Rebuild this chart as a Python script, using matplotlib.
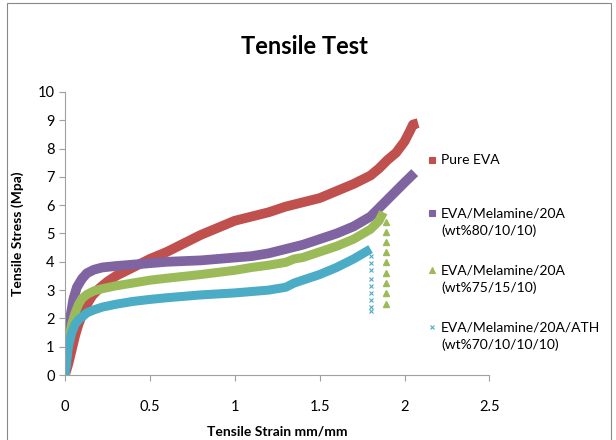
import matplotlib.pyplot as plt
from matplotlib.lines import Line2D
from matplotlib.patches import Rectangle

# values
red_x = [0, 0.02, 0.04, 0.06, 0.08, 0.1, 0.13, 0.16, 0.2, 0.25, 0.3, 0.4, 0.5, 0.6, 0.7, 0.8,
         0.9, 1.0, 1.1, 1.2, 1.3, 1.4, 1.5, 1.6, 1.7, 1.8, 1.85, 1.9, 1.95, 2.0, 2.03, 2.05, 2.08]
red_y = [0, 0.4, 0.9, 1.4, 1.8, 2.1, 2.5, 2.8, 3.05, 3.3, 3.5, 3.8, 4.1, 4.35, 4.65, 4.95,
         5.2, 5.45, 5.6, 5.75, 5.95, 6.1, 6.25, 6.5, 6.75, 7.05, 7.3, 7.6, 7.85, 8.25, 8.6, 8.85, 8.9]

pur_x = [0, 0.01, 0.02, 0.03, 0.05, 0.07, 0.1, 0.13, 0.17, 0.22, 0.3, 0.4, 0.5, 0.6, 0.8, 1.0,
         1.1, 1.2, 1.3, 1.4, 1.5, 1.6, 1.7, 1.8, 1.85, 1.9, 1.95, 2.0, 2.06]
pur_y = [0, 0.8, 1.5, 2.0, 2.7, 3.1, 3.4, 3.6, 3.72, 3.8, 3.85, 3.9, 3.95, 4.0, 4.05, 4.15,
         4.2, 4.3, 4.45, 4.6, 4.8, 5.0, 5.25, 5.6, 5.9, 6.2, 6.5, 6.8, 7.15]

grn_x = [0, 0.01, 0.02, 0.04, 0.06, 0.08, 0.1, 0.13, 0.17, 0.22, 0.3, 0.4, 0.5, 0.6, 0.8, 1.0,
         1.1, 1.2, 1.3, 1.35, 1.4, 1.5, 1.6, 1.7, 1.8, 1.85, 1.875]
grn_y = [0, 0.6, 1.2, 1.8, 2.2, 2.5, 2.7, 2.85, 2.97, 3.05, 3.15, 3.25, 3.35, 3.42, 3.55, 3.7,
         3.8, 3.88, 3.98, 4.1, 4.15, 4.35, 4.55, 4.8, 5.15, 5.45, 5.75]
grn_tail_x = [1.89] * 9
grn_tail_y = [5.4, 5.05, 4.7, 4.35, 4.0, 3.6, 3.25, 2.9, 2.5]

cyn_x = [0, 0.01, 0.02, 0.04, 0.06, 0.08, 0.1, 0.13, 0.17, 0.22, 0.3, 0.4, 0.5, 0.6, 0.8, 1.0,
         1.1, 1.2, 1.3, 1.35, 1.4, 1.5, 1.6, 1.7, 1.8]
cyn_y = [0, 0.5, 1.0, 1.5, 1.8, 1.95, 2.05, 2.2, 2.3, 2.4, 2.5, 2.6, 2.67, 2.73, 2.83, 2.9,
         2.95, 3.0, 3.1, 3.25, 3.35, 3.55, 3.8, 4.1, 4.45]
cyn_tail_x = [1.805] * 9
cyn_tail_y = [4.2, 3.95, 3.7, 3.4, 3.15, 2.9, 2.65, 2.4, 2.25]

labels = ["Pure EVA", "EVA/Melamine/20A\n(wt%80/10/10)",
          "EVA/Melamine/20A\n(wt%75/15/10)", "EVA/Melamine/20A/ATH\n(wt%70/10/10/10)"]
colors = ["#C0504D", "#8064A2", "#9BBB59", "#4BACC6"]
markers = ["s", "s", "^", "x"]

plt.rcParams["font.family"] = ["Lato", "DejaVu Sans"]

fig = plt.figure(figsize=(6.16, 4.4), dpi=100)
ax = fig.add_axes([0.1055, 0.1477, 0.689, 0.6433])

ax.plot(red_x, red_y, color=colors[0], lw=7, solid_capstyle="butt")
ax.plot(pur_x, pur_y, color=colors[1], lw=7, solid_capstyle="butt")
ax.plot(grn_x, grn_y, color=colors[2], lw=6.5, solid_capstyle="butt")
ax.plot(grn_tail_x, grn_tail_y, ls="none", marker="^", ms=4.5, color=colors[2])
ax.plot(cyn_x, cyn_y, color=colors[3], lw=6.5, solid_capstyle="butt")
ax.plot(cyn_tail_x, cyn_tail_y, ls="none", marker="x", ms=3.5, mew=0.8, color=colors[3])

ax.set_xlim(0, 2.5)
ax.set_ylim(0, 10)
ax.set_xticks([0, 0.5, 1, 1.5, 2, 2.5])
ax.set_xticklabels(["0", "0.5", "1", "1.5", "2", "2.5"])
ax.set_yticks(range(11))
for s in ["top", "right"]:
    ax.spines[s].set_visible(False)
for s in ["left", "bottom"]:
    ax.spines[s].set_color("#A0A0A0")
ax.tick_params(colors="#A0A0A0", labelcolor="black", labelsize=10.5, length=4, width=0.8)
ax.tick_params(axis="x", pad=14)

ax.set_xlabel("Tensile Strain mm/mm", fontsize=10, fontweight="bold", labelpad=8)
ax.set_ylabel("Tensile Stress (Mpa)", fontsize=10, fontweight="bold", labelpad=10)
fig.text(0.495, 0.895, "Tensile Test", fontsize=17, fontweight="bold", ha="center", va="center")

# legend drawn by hand so the marker sits on the first text line
leg_y = [0.637, 0.516, 0.386, 0.257]
for lab, c, m, y in zip(labels, colors, markers, leg_y):
    fig.add_artist(Line2D([0.701], [y], marker=m, color=c, ms=4 if m != "x" else 3.5,
                          mew=0.8, ls="none", transform=fig.transFigure))
    fig.text(0.716, y + 0.012, lab, fontsize=10, va="top", ha="left", linespacing=1.45)

fig.add_artist(Rectangle((0.012, -0.01), 0.98, 1.003, transform=fig.transFigure,
                         fill=False, edgecolor="#888888", lw=0.8))

fig.savefig("out.png", dpi=100)
